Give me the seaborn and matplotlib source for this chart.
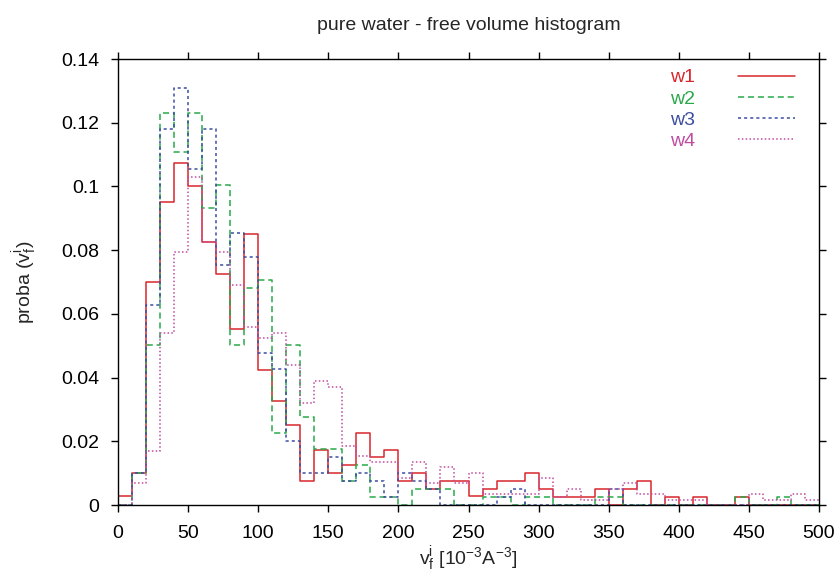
import numpy as np
import pandas as pd
import matplotlib
matplotlib.use("Agg")
import matplotlib.pyplot as plt
import seaborn as sns

# bin edges (width 10, 0..500)
bin_edges = list(range(0, 510, 10))

w1 = [0.0027, 0.0102, 0.0701, 0.0950, 0.1073, 0.1000, 0.0827, 0.0726, 0.0552, 0.0850,
      0.0425, 0.0327, 0.0251, 0.0074, 0.0174, 0.0099, 0.0126, 0.0225, 0.0151, 0.0174,
      0.0076, 0.0099, 0.0050, 0.0076, 0.0076, 0.0027, 0.0050, 0.0075, 0.0075, 0.0100,
      0.0050, 0.0026, 0.0026, 0.0026, 0.0050, 0.0000, 0.0050, 0.0075, 0.0000, 0.0026,
      0.0000, 0.0026, 0.0000, 0.0000, 0.0026, 0.0000, 0.0000, 0.0000, 0.0000, 0.0000]
w2 = [0.0000, 0.0102, 0.0503, 0.1232, 0.1107, 0.1232, 0.0931, 0.1006, 0.0503, 0.0680,
      0.0705, 0.0227, 0.0503, 0.0276, 0.0177, 0.0177, 0.0074, 0.0126, 0.0025, 0.0025,
      0.0000, 0.0050, 0.0050, 0.0050, 0.0000, 0.0000, 0.0025, 0.0025, 0.0000, 0.0025,
      0.0025, 0.0000, 0.0000, 0.0000, 0.0025, 0.0025, 0.0000, 0.0000, 0.0000, 0.0000,
      0.0000, 0.0000, 0.0000, 0.0000, 0.0025, 0.0000, 0.0000, 0.0025, 0.0000, 0.0000]
w3 = [0.0000, 0.0102, 0.0628, 0.1180, 0.1308, 0.1055, 0.1180, 0.0754, 0.0854, 0.0779,
      0.0477, 0.0427, 0.0201, 0.0099, 0.0099, 0.0151, 0.0074, 0.0099, 0.0074, 0.0025,
      0.0099, 0.0074, 0.0050, 0.0000, 0.0000, 0.0000, 0.0000, 0.0025, 0.0050, 0.0000,
      0.0000, 0.0000, 0.0000, 0.0000, 0.0000, 0.0050, 0.0000, 0.0000, 0.0000, 0.0000,
      0.0000, 0.0000, 0.0000, 0.0000, 0.0000, 0.0000, 0.0000, 0.0000, 0.0000, 0.0000]
w4 = [0.0000, 0.0068, 0.0171, 0.0540, 0.0794, 0.1030, 0.0827, 0.0794, 0.0692, 0.0558,
      0.0524, 0.0540, 0.0440, 0.0320, 0.0390, 0.0370, 0.0185, 0.0153, 0.0135, 0.0135,
      0.0085, 0.0135, 0.0068, 0.0119, 0.0068, 0.0100, 0.0035, 0.0035, 0.0035, 0.0035,
      0.0086, 0.0026, 0.0050, 0.0017, 0.0017, 0.0050, 0.0069, 0.0035, 0.0035, 0.0017,
      0.0017, 0.0017, 0.0000, 0.0000, 0.0000, 0.0035, 0.0017, 0.0017, 0.0035, 0.0017]

series_names = ["w1", "w2", "w3", "w4"]
series_vals = [w1, w2, w3, w4]
colors = ["#d8262c", "#2aa84a", "#3c4ea0", "#c04ca0"]
styles = ["-", (0, (4, 2.5)), (0, (2, 2)), (0, (1, 1.5))]

x_ticks = [0, 50, 100, 150, 200, 250, 300, 350, 400, 450, 500]
y_ticks = [0, 0.02, 0.04, 0.06, 0.08, 0.1, 0.12, 0.14]
y_tick_labels = ["0", "0.02", "0.04", "0.06", "0.08", "0.1", "0.12", "0.14"]

sns.set_style("ticks")
plt.rcParams["font.family"] = ["Liberation Sans", "DejaVu Sans"]
plt.rcParams["mathtext.fontset"] = "custom"
plt.rcParams["mathtext.rm"] = "Liberation Sans"
plt.rcParams["mathtext.it"] = "Liberation Sans"

fig = plt.figure(figsize=(8.4, 5.73), dpi=100)
ax = fig.add_axes([118 / 840, 1 - 505 / 573, (819 - 118) / 840, (505 - 59) / 573])

centers = [e + 5 for e in bin_edges[:-1]]
for name, vals, c, ls in zip(series_names, series_vals, colors, styles):
    df = pd.DataFrame({"x": centers, "w": vals})
    sns.histplot(data=df, x="x", weights="w", bins=bin_edges, element="step",
                 fill=False, color=c, linestyle=ls, linewidth=1.1, ax=ax, label=name)

ax.set_xlim(0, 500)
ax.set_ylim(0, 0.14)
ax.set_xticks(x_ticks)
ax.set_yticks(y_ticks)
ax.set_yticklabels(y_tick_labels)
ax.tick_params(direction="out", length=5, width=1, top=True, right=True,
               labelsize=14, colors="black")
ax.tick_params(axis="y", pad=8.5)
ax.tick_params(axis="x", pad=9.5)
for s in ax.spines.values():
    s.set_visible(True)
    s.set_linewidth(1)
    s.set_color("black")

ax.set_title("pure water - free volume histogram", fontsize=14, pad=21)
ax.set_xlabel(r"v$_\mathregular{f}^\mathregular{i}$ [10$^\mathregular{-3}$A$^\mathregular{-3}$]",
              fontsize=14)
ax.set_ylabel(r"proba (v$_\mathregular{f}^\mathregular{i}$)", fontsize=14)
ax.xaxis.set_label_coords(0.5, -0.088)
ax.yaxis.set_label_coords(-0.112, 0.5)

leg = ax.legend(loc="upper right", bbox_to_anchor=(0.966, 0.978), frameon=False,
                markerfirst=False, handlelength=2.95, handletextpad=2.2,
                labelspacing=0.18, fontsize=14, labelcolor="linecolor",
                borderaxespad=0, borderpad=0)

fig.savefig("out.png", dpi=100)
